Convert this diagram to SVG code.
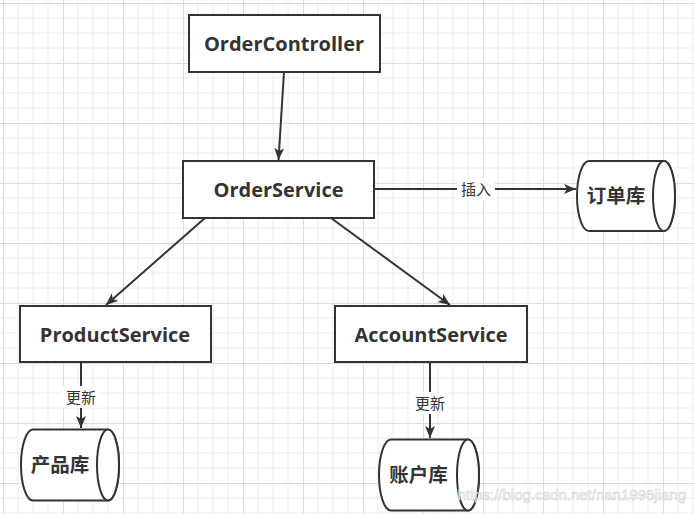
<svg xmlns="http://www.w3.org/2000/svg" width="694" height="514" viewBox="0 0 694 514">
<defs>
<pattern id="grid" x="3" y="3" width="60" height="60" patternUnits="userSpaceOnUse">
<path d="M15,0V60M30,0V60M45,0V60M0,15H60M0,30H60M0,45H60" stroke="#ececec" stroke-width="1" fill="none"/>
<path d="M0.5,0V60M0,0.5H60" stroke="#dcdcdc" stroke-width="1" fill="none"/>
</pattern>
<marker id="arr" markerUnits="userSpaceOnUse" markerWidth="14" markerHeight="12" refX="12" refY="5" orient="auto">
<path d="M0,0 L12,5 L0,10 L3,5 Z" fill="#333"/>
</marker>
<style>
.box{fill:#fff;stroke:#333;stroke-width:2}
.cyl{fill:#fff;stroke:#333;stroke-width:2}
.t{font-family:"Open Sans","Noto Sans CJK SC",sans-serif;font-weight:bold;font-size:20px;fill:#333;text-anchor:middle}
.c{font-family:"Noto Sans CJK SC",sans-serif;font-weight:bold;font-size:19.5px;fill:#333;text-anchor:middle}
.e{stroke:#333;stroke-width:2;fill:none;marker-end:url(#arr)}
.lbl{font-family:"Noto Sans CJK SC",sans-serif;font-size:15px;fill:#333;text-anchor:middle}
</style>
</defs>
<rect width="694" height="514" fill="#fff"/>
<rect width="694" height="514" fill="url(#grid)"/>
<g id="connectors">
<line class="e" x1="284" y1="72" x2="278.5" y2="160"/>
<line class="e" x1="374" y1="189" x2="576" y2="189"/>
<line class="e" x1="205" y1="218" x2="106" y2="305"/>
<line class="e" x1="331" y1="218" x2="450" y2="305"/>
<line class="e" x1="81" y1="362" x2="81" y2="428"/>
<line class="e" x1="430" y1="362" x2="430" y2="438"/>
<rect x="457" y="178" width="38" height="22" fill="#fff"/>
<text class="lbl" x="476" y="194.5">插入</text>
<rect x="62" y="386" width="38" height="22" fill="#fff"/>
<text class="lbl" x="81" y="402.5">更新</text>
<rect x="411" y="392" width="38" height="22" fill="#fff"/>
<text class="lbl" x="430" y="408.5">更新</text>
</g>
<g id="OrderController">
<rect class="box" x="189" y="15" width="191" height="57"/>
<text class="t" x="284" y="51">OrderController</text>
</g>
<g id="OrderService">
<rect class="box" x="183" y="161" width="191" height="57"/>
<text class="t" x="278.5" y="196.5">OrderService</text>
</g>
<g id="ProductService">
<rect class="box" x="20" y="306" width="191" height="56"/>
<text class="t" x="115" y="341.5">ProductService</text>
</g>
<g id="AccountService">
<rect class="box" x="335" y="306" width="192" height="56"/>
<text class="t" x="431" y="341.5">AccountService</text>
</g>
<g id="db-order">
<path class="cyl" d="M589,161 L664,161 A11,35 0 0 1 664,231 L589,231 A12,35 0 0 1 589,161 Z"/>
<ellipse class="cyl" cx="664" cy="196" rx="11" ry="35"/>
<text class="c" x="616" y="203">订单库</text>
</g>
<g id="db-product">
<path class="cyl" d="M33,429.5 L108,429.5 A11,35.5 0 0 1 108,500.5 L33,500.5 A12,35.5 0 0 1 33,429.5 Z"/>
<ellipse class="cyl" cx="108" cy="465" rx="11" ry="35.5"/>
<text class="c" x="60" y="472">产品库</text>
</g>
<g id="db-account">
<path class="cyl" d="M391,439.5 L468,439.5 A11,35.5 0 0 1 468,510.5 L391,510.5 A12,35.5 0 0 1 391,439.5 Z"/>
<ellipse class="cyl" cx="468" cy="475" rx="11" ry="35.5"/>
<text class="c" x="418.5" y="482">账户库</text>
</g>
<text x="686" y="500" font-family="Liberation Sans, Arial, sans-serif" font-size="15" fill="#ffffff" stroke="#cfcfcf" stroke-width="0.6" text-anchor="end" opacity="0.9">https://blog.csdn.net/nan1996jiang</text>
</svg>
